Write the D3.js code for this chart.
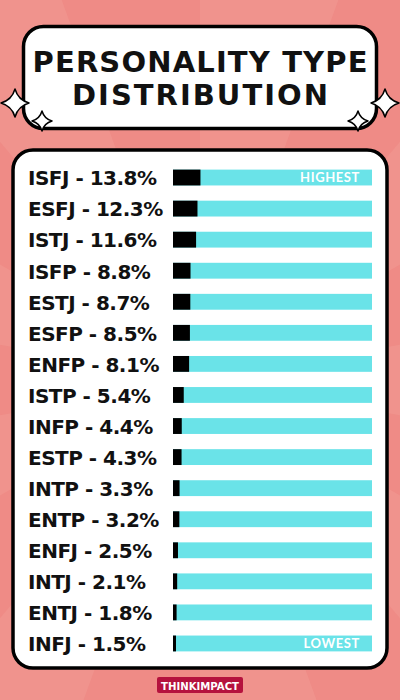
<!DOCTYPE html>
<html><head><meta charset="utf-8">
<script src="https://cdn.jsdelivr.net/npm/d3@7/dist/d3.min.js"></script>
<style>html,body{margin:0;padding:0;background:#ef8b86;}svg{display:block;}</style>
</head><body>
<script>
const types = ["ISFJ","ESFJ","ISTJ","ISFP","ESTJ","ESFP","ENFP","ISTP","INFP","ESTP","INTP","ENTP","ENFJ","INTJ","ENTJ","INFJ"];
const shares = [13.8,12.3,11.6,8.8,8.7,8.5,8.1,5.4,4.4,4.3,3.3,3.2,2.5,2.1,1.8,1.5];
const titleLines = ["PERSONALITY TYPE","DISTRIBUTION"];
const markers = {0:"HIGHEST",15:"LOWEST"};

const W=400,H=700;
const svg=d3.select("body").append("svg").attr("width",W).attr("height",H);

// background with sunburst rays
svg.append("rect").attr("width",W).attr("height",H).attr("fill","#ef8b86");
const cx=200, cy=380, nR=18;
const arc=d3.arc().innerRadius(0).outerRadius(900);
const rays=d3.range(nR);
svg.append("g").attr("transform",`translate(${cx},${cy})`)
  .selectAll("path").data(rays.filter(i=>i%2===0)).join("path")
  .attr("d",i=>arc({startAngle:i*2*Math.PI/nR,endAngle:(i+1)*2*Math.PI/nR}))
  .attr("fill","#f39f98").attr("opacity",0.4);

// title box
svg.append("rect").attr("x",23.5).attr("y",26.5).attr("width",353).attr("height",102)
  .attr("rx",20).attr("fill","#fff").attr("stroke","#000").attr("stroke-width",3.5);
const titleW=[335,256];
svg.selectAll("text.title").data(titleLines).join("text").attr("class","title")
  .attr("x",200).attr("y",(d,i)=>71.5+i*33).attr("text-anchor","middle")
  .attr("font-family","DejaVu Sans").attr("font-weight","bold").attr("font-size",29)
  .attr("textLength",(d,i)=>titleW[i]).attr("lengthAdjust","spacing")
  .attr("fill","#111").text(d=>d);

// sparkles
function star(r){const k=r*0.22;return `M0,${-r} Q${k},${-k} ${r},0 Q${k},${k} 0,${r} Q${-k},${k} ${-r},0 Q${-k},${-k} 0,${-r}Z`;}
const sparks=[[15,103,14],[42,121,10],[385,103,14],[358,121,10]];
svg.selectAll("path.spark").data(sparks).join("path").attr("class","spark")
  .attr("transform",d=>`translate(${d[0]},${d[1]})`).attr("d",d=>star(d[2]))
  .attr("fill","#fff").attr("stroke","#000").attr("stroke-width",1.5).attr("stroke-linejoin","round");

// panel
svg.append("rect").attr("x",13).attr("y",150).attr("width",374).attr("height",518)
  .attr("rx",20).attr("fill","#fff").attr("stroke","#000").attr("stroke-width",3.5);

// scales
const x=d3.scaleLinear().domain([0,100]).range([173,372]);
const y=d3.scaleBand().domain(types).range([162,659]).paddingInner(0.49).paddingOuter(0.245);

const g=svg.append("g");
const rows=g.selectAll("g.row").data(types).join("g").attr("class","row");
rows.append("rect").attr("x",x(0)).attr("y",d=>y(d)).attr("width",x(100)-x(0)).attr("height",y.bandwidth())
  .attr("fill","#6ae3e8");
rows.append("rect").attr("x",x(0)).attr("y",d=>y(d)).attr("width",(d,i)=>x(shares[i])-x(0)).attr("height",y.bandwidth())
  .attr("fill","#000");
rows.append("text").attr("x",28).attr("y",d=>y(d)+y.bandwidth()/2+7.8)
  .attr("font-family","DejaVu Sans").attr("font-weight","bold").attr("font-size",20).attr("fill","#111")
  .attr("letter-spacing",-0.5)
  .text((d,i)=>`${d} - ${shares[i]}%`);
rows.filter((d,i)=>markers[i]).append("text").attr("x",360).attr("y",d=>y(d)+y.bandwidth()/2+4.8)
  .attr("text-anchor","end").attr("font-family","Lato").attr("font-weight","bold").attr("font-size",13)
  .attr("letter-spacing",0.6).attr("fill","#fff").text(d=>markers[types.indexOf(d)]);

// logo
svg.append("rect").attr("x",157).attr("y",677).attr("width",86).attr("height",16).attr("rx",2).attr("fill","#b5123e");
svg.append("text").attr("x",200).attr("y",690).attr("text-anchor","middle").attr("font-family","DejaVu Sans")
  .attr("font-weight","bold").attr("font-size",11).attr("textLength",78).attr("lengthAdjust","spacingAndGlyphs")
  .attr("fill","#fff").text("THINKIMPACT");
</script>
</body></html>
